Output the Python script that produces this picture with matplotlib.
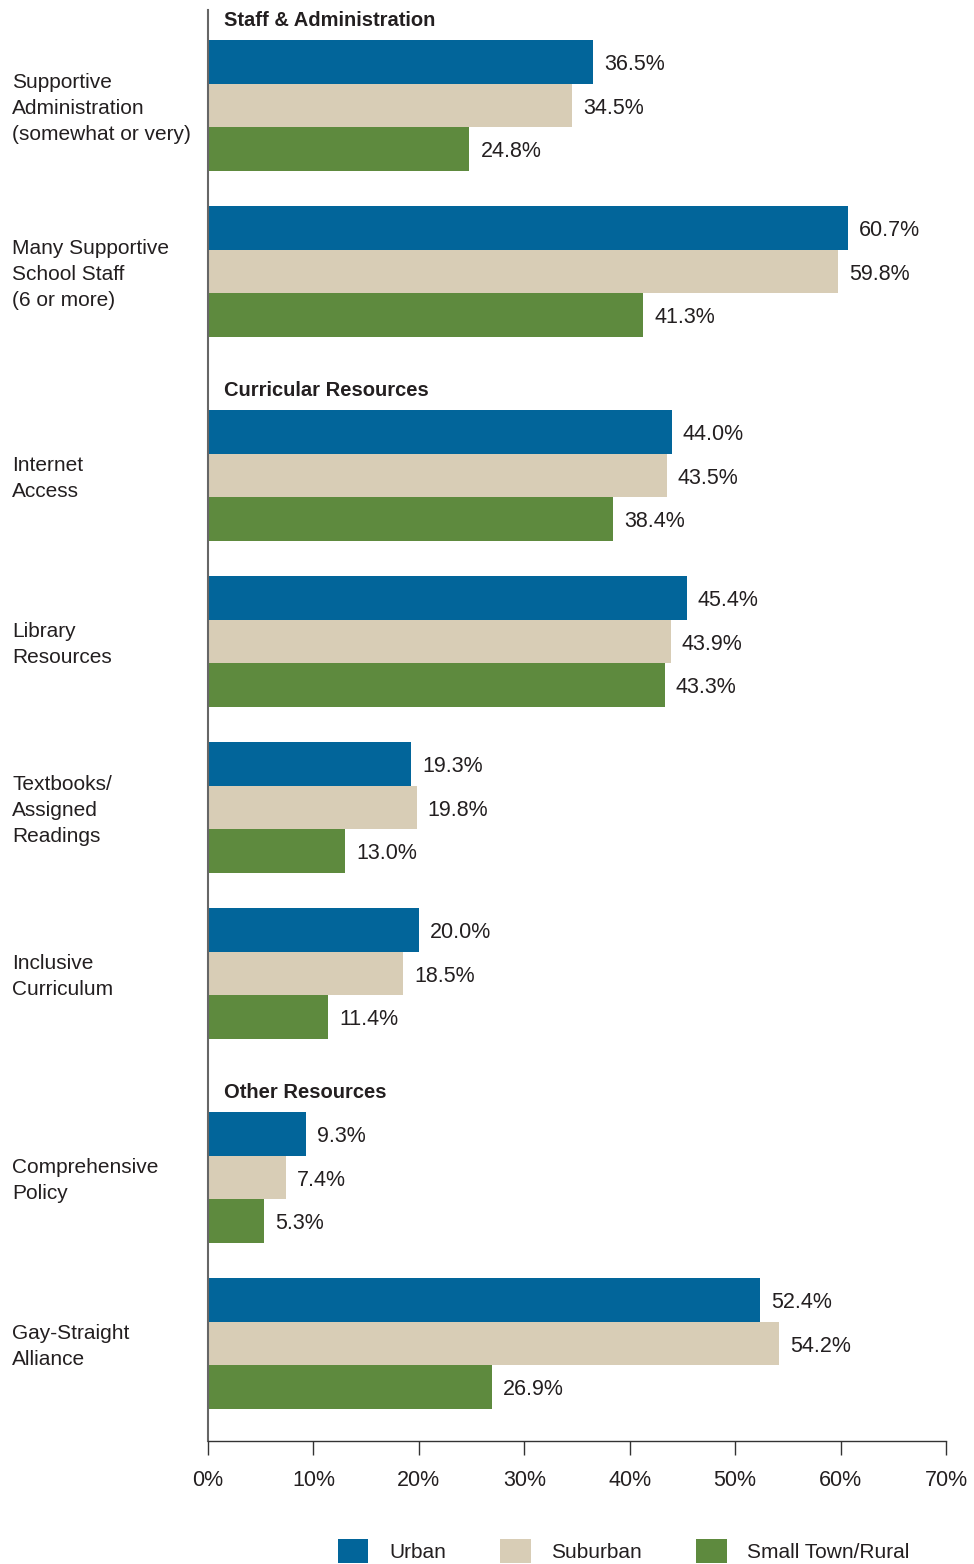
import matplotlib
matplotlib.use("Agg")
import matplotlib.pyplot as plt
from matplotlib.patches import Patch

plt.rcParams["font.family"] = ["Liberation Sans", "DejaVu Sans"]

categories = [
    "Supportive\nAdministration\n(somewhat or very)",
    "Many Supportive\nSchool Staff\n(6 or more)",
    "Internet\nAccess",
    "Library\nResources",
    "Textbooks/\nAssigned\nReadings",
    "Inclusive\nCurriculum",
    "Comprehensive\nPolicy",
    "Gay-Straight\nAlliance",
]
urban = [36.5, 60.7, 44.0, 45.4, 19.3, 20.0, 9.3, 52.4]
suburban = [34.5, 59.8, 43.5, 43.9, 19.8, 18.5, 7.4, 54.2]
rural = [24.8, 41.3, 38.4, 43.3, 13.0, 11.4, 5.3, 26.9]
sections = ["Staff & Administration", "Curricular Resources", "Other Resources"]
section_of = [0, 0, 1, 1, 1, 1, 2, 2]
series_names = ["Urban", "Suburban", "Small Town/Rural"]

colors = ["#02659a", "#d8cdb6", "#5e8a3e"]
text_color = "#231f20"

W, H = 974, 1564
fig = plt.figure(figsize=(W / 100, H / 100), dpi=100)
ax = fig.add_axes([208 / W, 1 - 1441 / H, (946 - 208) / W, (1441 - 10) / H])
px_per_pct = (946 - 208) / 70

# layout in pixel-like units (y grows downward)
bar_h = 131 / 3
group_gap = 35
section_gap = 38
y = 40
group_tops = []
for i in range(len(categories)):
    if i > 0:
        y += group_gap
        if section_of[i] != section_of[i - 1]:
            y += section_gap
    group_tops.append(y)
    y += 3 * bar_h

for i, top in enumerate(group_tops):
    for j, vals in enumerate([urban, suburban, rural]):
        yc = top + bar_h * (j + 0.5)
        ax.barh(yc, vals[i], height=bar_h, color=colors[j], edgecolor="none")
        ax.annotate(f"{vals[i]:.1f}%", (vals[i], yc), xytext=(8, -2),
                    textcoords="offset points", ha="left", va="center",
                    fontsize=15.5, color=text_color)
    ax.text(-(208 - 12) / px_per_pct, top + 1.5 * bar_h + 3, categories[i],
            ha="left", va="center", fontsize=15, color=text_color,
            linespacing=1.45, clip_on=False)
    if i == 0 or section_of[i] != section_of[i - 1]:
        ax.text(16 / px_per_pct, top - 19, sections[section_of[i]], ha="left",
                va="center", fontsize=14.5, fontweight="bold", color=text_color)

ax.set_xlim(0, 70)
ax.set_ylim(1441, 10)
ax.set_xticks(range(0, 71, 10))
ax.set_xticklabels([f"{t}%" for t in range(0, 71, 10)])
ax.tick_params(axis="x", length=10, width=1, color="#333333", labelsize=15.5,
               labelcolor=text_color, pad=11)
ax.set_yticks([])
for s in ["top", "right"]:
    ax.spines[s].set_visible(False)
ax.spines["left"].set_color("#666666")
ax.spines["left"].set_linewidth(1.5)
ax.spines["bottom"].set_color("#333333")
ax.spines["bottom"].set_linewidth(1)

handles = [Patch(facecolor=c, edgecolor="none", label=n) for c, n in zip(colors, series_names)]
fig.legend(handles=handles, loc="center", bbox_to_anchor=(624 / W, 1 - 1551 / H),
           ncol=3, frameon=False, fontsize=15, handlelength=1.45, handleheight=1.45,
           handletextpad=1.0, columnspacing=2.6, labelcolor=text_color)

fig.savefig("out.png", dpi=100)
